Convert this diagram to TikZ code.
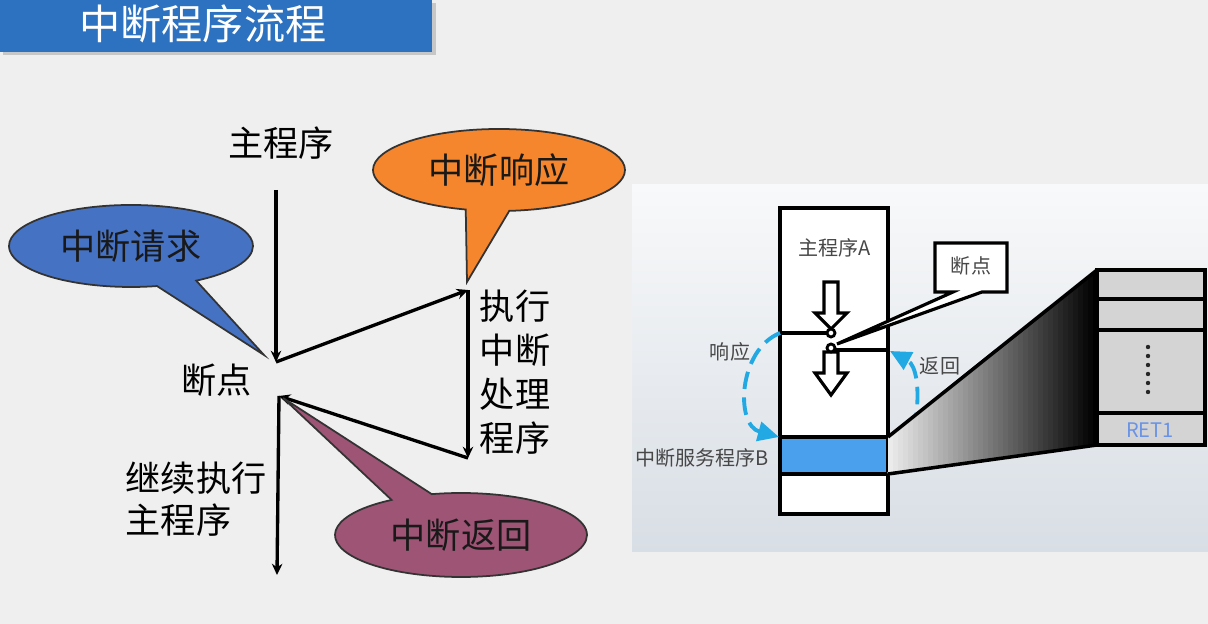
\documentclass[tikz,border=0pt]{standalone}
\usepackage{fontspec}
\setmainfont{Noto Sans CJK SC}
\usetikzlibrary{arrows.meta,shapes.callouts}
\definecolor{pagebg}{HTML}{EFEFEF}
\definecolor{titleblue}{HTML}{2C72C0}
\definecolor{askblue}{RGB}{70,114,196}
\definecolor{ackorange}{RGB}{245,134,45}
\definecolor{retpurple}{RGB}{158,84,117}
\definecolor{bandblue}{HTML}{4BA0EE}
\definecolor{dashcyan}{HTML}{22A8E2}
\definecolor{stackgray}{HTML}{D4D4D4}
\definecolor{retblue}{HTML}{6A93E6}
\definecolor{paneltop}{HTML}{F8F9FA}
\definecolor{panelbot}{HTML}{D8DEE5}
\newcommand{\titletxt}{\fontsize{11.7pt}{14pt}\selectfont}
\newcommand{\bigtxt}{\fontsize{10pt}{12.5pt}\selectfont}
\newcommand{\smalltxt}{\fontsize{5.7pt}{7pt}\selectfont}

\begin{document}
\begin{tikzpicture}[x=0.1mm, y=-0.1mm,
  flow/.style={line width=0.95pt, -{Stealth[length=3.2pt,width=3pt]}},
  bubble/.style={ellipse callout, draw=black!80, line width=0.5pt, inner sep=0pt,
    callout pointer arc=20, font=\bigtxt, text=black!90},
  colline/.style={line width=1.2pt},
  rtxt/.style={font=\smalltxt, text=black!72},
  loop/.style={dashcyan, line width=1.1pt, dash pattern=on 5pt off 2.4pt,
    -{Triangle[length=6pt,width=5.5pt]}}]
\useasboundingbox (0,0) rectangle (1208,624);
\fill[pagebg] (0,0) rectangle (1208,624);

% title bar
\fill[black!22] (3,3) rectangle (436,55);
\fill[titleblue] (0,0) rectangle (432,52);
\node[white, font=\titletxt] (title) at (203,24) {中断程序流程};

% left: flow of the interrupt
\coordinate (mainTop) at (276,190);
\coordinate (brkIn) at (276,362);
\coordinate (isrTop) at (468,290);
\coordinate (isrBot) at (468,458);
\coordinate (brkOut) at (279,396);
\coordinate (contEnd) at (277,575);
\draw[flow] (mainTop) -- (brkIn);
\draw[flow] (brkIn) -- (isrTop);
\draw[flow] (isrTop) -- (isrBot);
\draw[flow] (isrBot) -- (brkOut);
\draw[flow] (brkOut) -- (contEnd);

\node[font=\bigtxt] (mainLbl) at (281,143) {主程序};
\node[font=\bigtxt] (brkLbl) at (217,380) {断点};
\node[font=\bigtxt, align=left] (isrLbl) at (515,372) {执行\\中断\\处理\\程序};
\node[font=\fontsize{10pt}{12pt}\selectfont, align=left] (contLbl) at (196,499) {继续执行\\主程序};

\node[bubble, fill=askblue, minimum width=24.4mm, minimum height=8.2mm,
  callout absolute pointer={(264,355)}] (askCall) at (131,246) {中断请求};
\node[bubble, fill=ackorange, minimum width=25.2mm, minimum height=8.2mm,
  callout absolute pointer={(467,282)}] (ackCall) at (499,170) {中断响应};
\node[bubble, fill=retpurple, minimum width=25.2mm, minimum height=8.4mm,
  callout absolute pointer={(283,398)}] (retCall) at (461,535) {中断返回};

% right: memory picture
\shade[top color=paneltop, bottom color=panelbot] (632,185) rectangle (1208,552);

\fill[white] (780,208) rectangle (888,514);
\fill[bandblue] (780,437) rectangle (888,474);
\draw[colline] (780,208) rectangle (888,514);
\draw[colline] (780,437) -- (888,437);
\draw[colline] (780,474) -- (888,474);
\draw[line width=1pt] (780,333) -- (827,333);
\draw[line width=1pt] (835,350) -- (888,350);

\draw[line width=0.9pt, fill=white] (824,282) -- (838,282) -- (838,313) -- (847,313)
  -- (831,329) -- (815,313) -- (824,313) -- cycle;
\draw[line width=0.9pt, fill=white] (824,352) -- (838,352) -- (838,373) -- (847,373)
  -- (831,395) -- (815,373) -- (824,373) -- cycle;
\draw[line width=0.8pt, fill=white] (831,333) circle[radius=0.4mm];
\draw[line width=0.8pt, fill=white] (831,348) circle[radius=0.4mm];

\node[rtxt] (progA) at (835,248) {主程序A};
\draw[line width=0.9pt, fill=white] (935,243) -- (1007,243) -- (1007,292) -- (982,292)
  -- (837,344) -- (953,292) -- (935,292) -- cycle;
\node[rtxt] (brkTag) at (971,266) {断点};

\draw[loop] (780,333) .. controls (738,350) and (735,425) .. (779,437);
\draw[loop] (888,474) .. controls (920,455) and (925,370) .. (890,351);
\node[rtxt] (ackLbl) at (730,352) {响应};
\node[rtxt] (retLbl) at (940,366) {返回};
\node[rtxt] (isrB) at (702,458) {中断服务程序B};

% zoom wedge, light to dark
\begin{scope}
  \clip (888,437) -- (1097,270) -- (1097,445) -- (888,474) -- cycle;
  \foreach \i [evaluate=\i as \pc using 8+92*\i/41,
               evaluate=\i as \xa using 888+5*\i] in {0,...,41}
    \fill[black!\pc] (\xa,260) rectangle ++(5.6,220);
\end{scope}
\draw[line width=1pt] (888,437) -- (1097,270);
\draw[line width=1pt] (888,474) -- (1097,445);

\fill[stackgray] (1097,270) rectangle (1205,445);
\draw[colline] (1097,270) rectangle (1205,445);
\foreach \yy in {299,330,413}
  \draw[colline] (1097,\yy) -- (1205,\yy);
\foreach \yy in {347,356,365,374,383,392}
  \fill[black!85] (1148,\yy) circle[radius=0.22mm];
\node[rtxt, text=retblue] (ret1) at (1150,430) {RET1};
\end{tikzpicture}
\end{document}
